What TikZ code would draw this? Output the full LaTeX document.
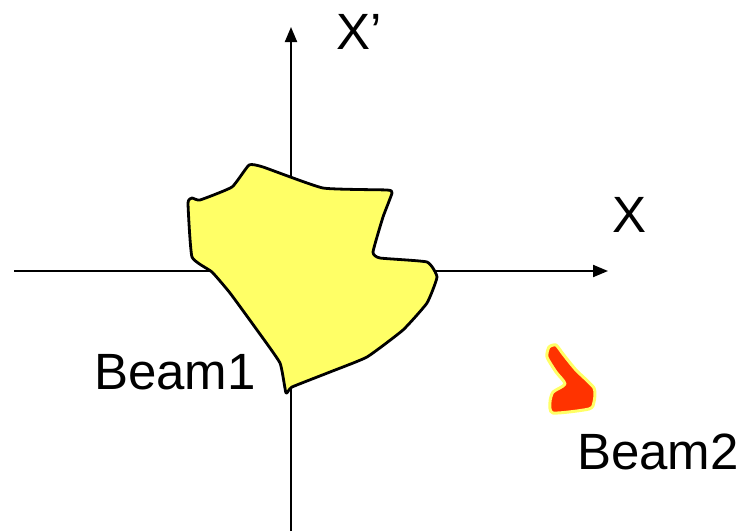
\documentclass[tikz,border=0pt]{standalone}
\usepackage{fontspec}
\setmainfont{Liberation Sans}
\usetikzlibrary{arrows.meta}
\definecolor{beamyellow}{HTML}{FFFF66}
\definecolor{beamred}{HTML}{FF3300}
\begin{document}
\begin{tikzpicture}[x=1pt,y=-1pt,
  axis/.style={line width=2pt,-{Triangle[length=15pt,width=12pt]}},
  lbl/.style={inner sep=0pt,font=\fontsize{51}{54}\selectfont},
  beamone/.style={fill=beamyellow,draw=black,line width=2.8pt,line join=round},
  beamtwo/.style={fill=beamred,draw=beamyellow,line width=3pt,line join=round}]
\useasboundingbox (0,0) rectangle (747,531);
\coordinate (xs) at (14,271);
\coordinate (xe) at (608,271);
\coordinate (ys) at (291,531);
\coordinate (ye) at (291,27);
\draw[axis] (xs) -- (xe);
\draw[axis] (ys) -- (ye);
\node[lbl] (xplab) at (359,32) {X’};
\node[lbl] (xlab) at (630,215) {X};
\node[lbl] (b1) at (175,372) {Beam1};
\node[lbl] (b2) at (658,452) {Beam2};
\draw[beamone] plot[smooth cycle,tension=0.25] coordinates {
 (249,165) (232,187) (200,200) (192,198) (188,203) (192,257) (212,272)
 (230,293) (257,330) (280,363) (286,393) (292,387) (330,372) (367,357)
 (403,330) (427,303) (437,277) (427,262) (380,258) (373,252) (383,217)
 (392,193) (387,190) (323,188) (263,167)};
\draw[beamtwo] plot[smooth cycle,tension=0.4] coordinates {
 (549,347) (556,345) (563,354) (576,370) (594,388) (594,402) (589,409) (553,413)
 (550,402) (553,392) (565,384) (556,372) (547,357)};
\end{tikzpicture}
\end{document}
